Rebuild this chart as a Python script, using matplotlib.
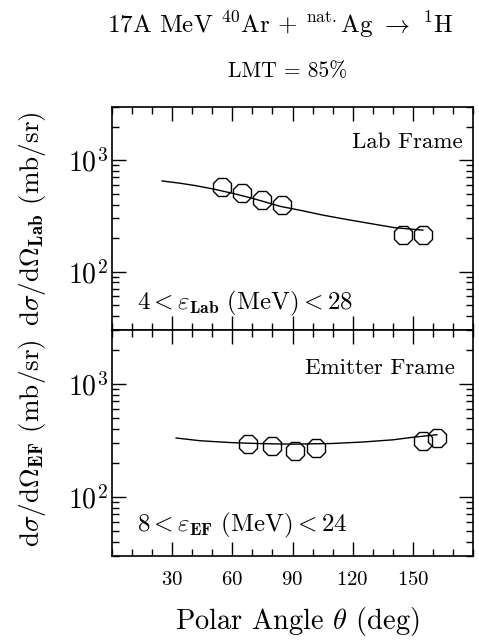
import matplotlib
matplotlib.use("Agg")
import matplotlib.pyplot as plt
from matplotlib.ticker import FixedLocator, MultipleLocator, LogLocator, NullFormatter

plt.rcParams['font.family'] = ['cmr10', 'DejaVu Serif']
plt.rcParams['mathtext.fontset'] = 'cm'
plt.rcParams['axes.formatter.use_mathtext'] = True

# lab frame data (deg, mb/sr)
lab_angle = [55, 65, 75, 85, 145, 155]
lab_xs = [573, 513, 435, 394, 215, 214]
# fitted curve
lab_fit_angle = [25, 34, 42, 51, 60, 70, 84, 95, 105, 117, 130, 141, 150, 155]
lab_fit_xs = [651, 621, 590, 549, 505, 455, 385, 352, 322, 294, 268, 248, 240, 236]

# emitter frame data
ef_angle = [68, 80, 91, 101.5, 155, 162]
ef_xs = [294, 280, 256, 270, 310, 330]
ef_fit_angle = [32, 44, 60, 75, 90, 110, 125, 140, 150, 162]
ef_fit_xs = [332, 314, 302, 296, 293, 297, 306, 320, 337, 355]

angle_ticks = [30, 60, 90, 120, 150]

fig = plt.figure(figsize=(4.79, 6.41), dpi=100)
ax1 = fig.add_axes([0.2338, 0.4852, 0.7537, 0.3479])
ax2 = fig.add_axes([0.2338, 0.1326, 0.7537, 0.3526])

for ax in (ax1, ax2):
    ax.set_yscale('log')
    ax.set_xlim(0, 180)
    ax.set_ylim(30, 3000)
    ax.xaxis.set_major_locator(FixedLocator(angle_ticks))
    ax.xaxis.set_minor_locator(MultipleLocator(10))
    ax.yaxis.set_major_locator(LogLocator(base=10))
    ax.yaxis.set_minor_locator(LogLocator(base=10, subs=range(2, 10)))
    ax.yaxis.set_minor_formatter(NullFormatter())
    ax.tick_params(which='both', direction='in', top=True, right=True, width=1)
    ax.tick_params(which='major', length=10)
    ax.tick_params(which='minor', length=5)
    ax.tick_params(axis='y', labelsize=20, pad=3)
    ax.tick_params(axis='x', labelsize=15, pad=11)
    for s in ax.spines.values():
        s.set_linewidth(1.2)

ax1.tick_params(axis='x', labelbottom=False)

ax1.plot(lab_fit_angle, lab_fit_xs, color='black', lw=1)
ax1.plot(lab_angle, lab_xs, ls='none', marker='8', ms=13.5, mfc='none',
         mec='black', mew=1)
ax2.plot(ef_fit_angle, ef_fit_xs, color='black', lw=1)
ax2.plot(ef_angle, ef_xs, ls='none', marker='8', ms=13.5, mfc='none',
         mec='black', mew=1)

ax1.text(0.972, 0.84, 'Lab Frame', transform=ax1.transAxes, ha='right',
         va='center', fontsize=16.5)
ax1.text(0.07, 0.12, r'$4 < \varepsilon_{\mathbf{Lab}}\ \mathrm{(MeV)} < 28$',
         transform=ax1.transAxes, ha='left', va='center', fontsize=18)
ax2.text(0.95, 0.832, 'Emitter Frame', transform=ax2.transAxes, ha='right',
         va='center', fontsize=16.5)
ax2.text(0.07, 0.135, r'$8 < \varepsilon_{\mathbf{EF}}\ \mathrm{(MeV)} < 24$',
         transform=ax2.transAxes, ha='left', va='center', fontsize=18)

ax1.set_ylabel(r'd$\sigma$/d$\Omega_{\mathbf{Lab}}$ (mb/sr)', fontsize=19.5)
ax2.set_ylabel(r'd$\sigma$/d$\Omega_{\mathbf{EF}}$ (mb/sr)', fontsize=19.5)
ax1.yaxis.set_label_coords(-0.178, 0.5)
ax2.yaxis.set_label_coords(-0.178, 0.5)
ax2.set_xlabel(r'Polar Angle $\theta$ (deg)', fontsize=20.5)
ax2.xaxis.set_label_coords(0.514, -0.215)

fig.text(0.585, 0.962, r'17A MeV $^{40}$Ar + $^{\mathrm{nat.}}$Ag $\rightarrow$ $^{1}$H',
         ha='center', va='center', fontsize=18)
fig.text(0.6, 0.888, 'LMT = 85%', ha='center', va='center', fontsize=15.5)

fig.savefig('out.png', dpi=100)
